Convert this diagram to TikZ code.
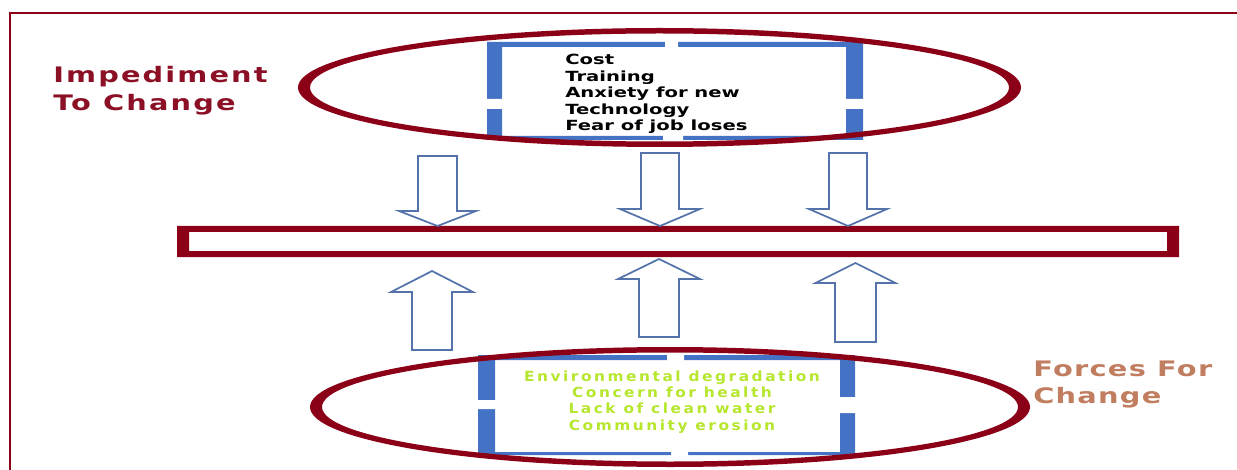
\documentclass[tikz,border=0pt]{standalone}
\usepackage{fontspec}
\newfontfamily\listfont[FakeStretch=1.4]{DejaVu Sans Bold}
\newfontfamily\titlefont[FakeStretch=1.35,LetterSpace=10]{DejaVu Sans Bold}
\newfontfamily\forcefont[FakeStretch=1.35,LetterSpace=6]{DejaVu Sans Bold}
\newfontfamily\driverfont[FakeStretch=1.1,LetterSpace=18]{DejaVu Sans Bold}
\definecolor{ringred}{RGB}{139,0,22}
\definecolor{boxblue}{RGB}{68,114,196}
\definecolor{arrowblue}{RGB}{84,115,170}
\definecolor{titlered}{RGB}{139,16,38}
\definecolor{forcebrown}{RGB}{193,125,95}
\definecolor{drivergreen}{RGB}{182,230,45}
\begin{document}
\begin{tikzpicture}[x=0.75pt,y=-0.75pt,
  ring/.style={fill=ringred,even odd rule},
  blueframe/.style={fill=boxblue,even odd rule},
  blockarrow/.style={draw=arrowblue,line width=1.3pt,fill=white,line join=miter},
  listtext/.style={font=\listfont\fontsize{10.5}{12.4}\selectfont,inner sep=0pt,anchor=base west},
  drivertext/.style={font=\driverfont\fontsize{10.5}{12.4}\selectfont,text=drivergreen,inner sep=0pt,anchor=base},
  titletext/.style={font=\titlefont\fontsize{16}{21}\selectfont,align=left,inner sep=0pt,anchor=base west}]%
\useasboundingbox (0,0) rectangle (1237,470);
% outer frame
\draw[ringred,line width=1.5pt] (1237,13) -- (10,13) -- (10,470);
% middle bar
\fill[ring] (177,226) rectangle (1179,257) (189,232) rectangle (1167,251);
% block arrows
\foreach \cx/\half/\head/\top/\base/\tip in {437.5/19.5/38.5/156/211/226, 660/19/40/153/209/226, 848/19/39/153/209/226, 432/20/41/350/292/271, 659/20/41/337/279/259, 855.5/20.5/40/342/283/263}
  \draw[blockarrow] (\cx-\half,\top) -- (\cx+\half,\top) -- (\cx+\half,\base) -- (\cx+\head,\base) -- (\cx,\tip) -- (\cx-\head,\base) -- (\cx-\half,\base) -- cycle;
% blue frames with gaps
\fill[blueframe] (487,42) rectangle (863,140) (502,47) rectangle (846,136);
\fill[white] (665,40) rectangle (678,49) (485,99) rectangle (504,109) (844,99) rectangle (865,109) (663,134) rectangle (683,142);
\fill[blueframe] (478,355) rectangle (855,455) (495,360) rectangle (840,452);
\fill[white] (667,353) rectangle (684,362) (476,400) rectangle (497,409) (838,397) rectangle (857,413) (671,450) rectangle (688,457);
% rings
\coordinate (topring) at (659.5,87.5);
\coordinate (botring) at (670,407);
\fill[ring] (topring) ellipse [x radius=361.5, y radius=59.5] (topring) ellipse [x radius=349.5, y radius=54];
\fill[ring] (botring) ellipse [x radius=360, y radius=60] (botring) ellipse [x radius=348, y radius=54.5];
% texts
\foreach \item [count=\i] in {Cost, Training, Anxiety for new, Technology, Fear of job loses}
  \node[listtext] (barrier\i) at (565,{65+16.5*(\i-1)}) {\item};
\foreach \item [count=\i] in {Environmental degradation, Concern for health, Lack of clean water, Community erosion}
  \node[drivertext] (driver\i) at (672,{381+16.4*(\i-1)}) {\item};
\node[titletext,text=titlered] (impediment) at (53,111) {Impediment\\To Change};
\node[titletext,font=\forcefont\fontsize{16}{20.25}\selectfont,text=forcebrown] (forces) at (1033,403) {Forces For\\Change};
\end{tikzpicture}
\end{document}
